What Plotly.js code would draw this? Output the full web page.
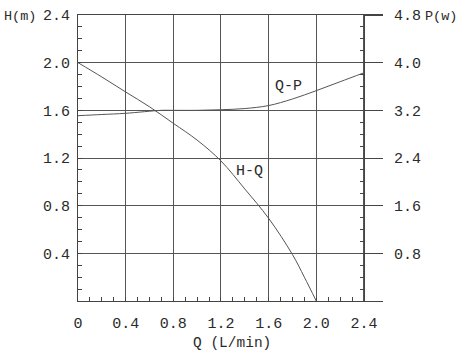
<!DOCTYPE html>
<html>
<head>
<meta charset="utf-8">
<script src="https://cdn.plot.ly/plotly-3.0.1.min.js"></script>
<style>html,body{margin:0;padding:0;background:#fff;}</style>
</head>
<body>
<div id="chart" style="width:462px;height:355px;"></div>
<script>
// Data (Q in L/min, H in m, P in W)
const hqQ = [0, 0.2, 0.4, 0.6, 0.8, 1.0, 1.2, 1.4, 1.6, 1.8, 1.9, 2.0];
const hqH = [2.0, 1.88, 1.754, 1.63, 1.491, 1.35, 1.175, 0.94, 0.694, 0.39, 0.2, 0.0];
const qpQ = [0, 0.2, 0.4, 0.7, 0.8, 1.0, 1.2, 1.4, 1.6, 1.8, 2.0, 2.2, 2.4];
const qpP = [3.11, 3.13, 3.15, 3.2, 3.2, 3.2, 3.21, 3.23, 3.28, 3.39, 3.53, 3.68, 3.83];
const xTicks = [0, 0.4, 0.8, 1.2, 1.6, 2.0, 2.4];
const xTickText = ["0", "0.4", "0.8", "1.2", "1.6", "2.0", "2.4"];
const hTicks = [0.4, 0.8, 1.2, 1.6, 2.0, 2.4];
const hTickText = ["0.4", "0.8", "1.2", "1.6", "2.0", "2.4"];
const pTicks = [0.8, 1.6, 2.4, 3.2, 4.0, 4.8];
const pTickText = ["0.8", "1.6", "2.4", "3.2", "4.0", "4.8"];

const FONT = "Liberation Mono, DejaVu Sans Mono, monospace";
const TXT = "#2a2a2a";
const LINE = "#444";
const GRID = "#555";

function steps(a, b, s) { const o = []; for (let v = a; v <= b + 1e-9; v += s) o.push(Math.round(v * 1000) / 1000); return o; }

const traces = [
  {x: hqQ, y: hqH, type: "scatter", mode: "lines", line: {color: "#555", width: 1, shape: "spline", smoothing: 1}, xaxis: "x", yaxis: "y", hoverinfo: "skip"},
  {x: qpQ, y: qpP, type: "scatter", mode: "lines", line: {color: "#555", width: 1, shape: "spline", smoothing: 1}, xaxis: "x", yaxis: "y2", hoverinfo: "skip"}
];

const layout = {
  width: 462, height: 355,
  margin: {l: 78, r: 79, t: 15, b: 54},
  paper_bgcolor: "#fff", plot_bgcolor: "#fff",
  showlegend: false,
  font: {family: FONT, size: 15, color: TXT},
  xaxis: {
    range: [0, 2.56], tickmode: "array", tickvals: xTicks, ticktext: xTickText,
    showgrid: true, gridcolor: GRID, gridwidth: 1,
    showline: true, mirror: true, linecolor: LINE, linewidth: 1,
    ticks: "", zeroline: false, ticklabelstandoff: 8,
    tickfont: {family: FONT, size: 15, color: TXT},
    minor: {tickmode: "array", tickvals: steps(0.1, 2.3, 0.1), ticks: "inside", ticklen: 4, tickcolor: LINE, showgrid: false}
  },
  yaxis: {
    range: [0, 2.4], tickmode: "array", tickvals: hTicks, ticktext: hTickText,
    showgrid: true, gridcolor: GRID, gridwidth: 1,
    showline: true, linecolor: LINE, linewidth: 1,
    ticks: "", zeroline: false, ticklabelstandoff: 4,
    tickfont: {family: FONT, size: 15, color: TXT},
    minor: {tickmode: "array", tickvals: steps(0.1, 2.3, 0.1), ticks: "inside", ticklen: 4, tickcolor: LINE, showgrid: false}
  },
  yaxis2: {
    range: [0, 4.8], overlaying: "y", side: "right", anchor: "free", position: 286 / 305,
    tickmode: "array", tickvals: pTicks, ticktext: pTickText,
    showgrid: false, showline: true, linecolor: LINE, linewidth: 1,
    ticks: "outside", ticklen: 18, tickcolor: LINE, zeroline: false, ticklabelstandoff: 8,
    tickfont: {family: FONT, size: 15, color: TXT},
    minor: {tickmode: "array", tickvals: steps(0.2, 4.6, 0.2), ticks: "inside", ticklen: 4, tickcolor: LINE, showgrid: false}
  },
  annotations: [
    {text: "H(m)", xref: "paper", yref: "paper", x: -78 / 305 + 2 / 305, y: 1 - 2 / 286, xanchor: "left", yanchor: "middle", showarrow: false, font: {family: FONT, size: 13.5, color: TXT}},
    {text: "P(w)", xref: "paper", yref: "paper", x: (423 - 78) / 305, y: 1 - 2 / 286, xanchor: "left", yanchor: "middle", showarrow: false, font: {family: FONT, size: 13.5, color: TXT}},
    {text: "Q (L/min)", xref: "paper", yref: "paper", x: (232 - 78) / 305, y: -42 / 286, xanchor: "center", yanchor: "middle", showarrow: false, font: {family: FONT, size: 14.5, color: TXT}},
    {text: "Q-P", xref: "x", yref: "y", x: 1.77, y: 1.80, xanchor: "center", yanchor: "middle", showarrow: false, font: {family: FONT, size: 15, color: TXT}},
    {text: "H-Q", xref: "x", yref: "y", x: 1.443, y: 1.09, xanchor: "center", yanchor: "middle", showarrow: false, font: {family: FONT, size: 15, color: TXT}}
  ]
};

Plotly.newPlot("chart", traces, layout, {staticPlot: true, displayModeBar: false});
</script>
</body>
</html>
